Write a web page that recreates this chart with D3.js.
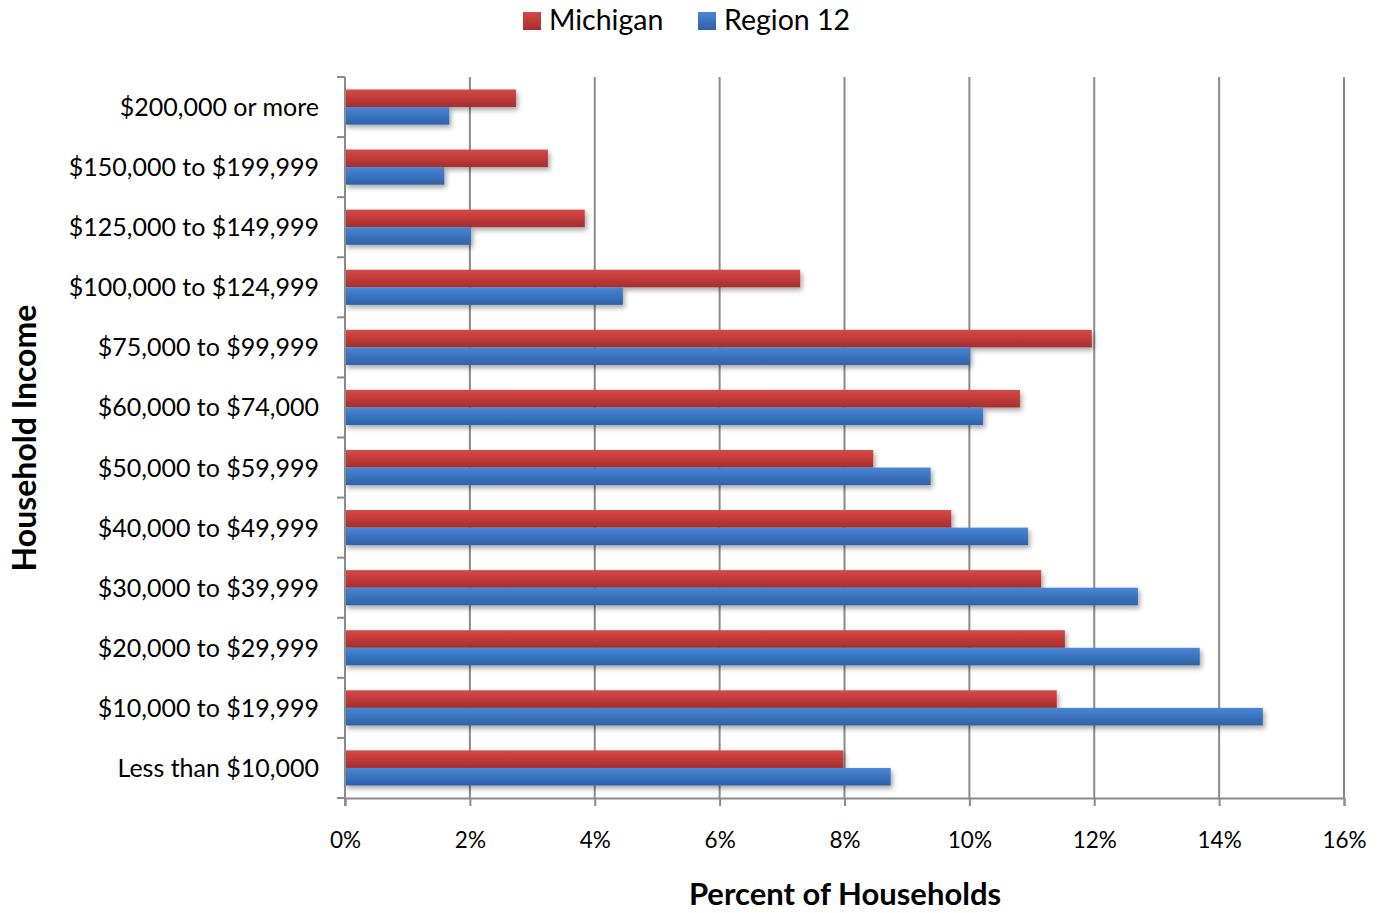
<!DOCTYPE html>
<html>
<head>
<meta charset="utf-8">
<script src="https://cdn.jsdelivr.net/npm/d3@7"></script>
<style>
  html, body { margin: 0; padding: 0; background: #fff; }
  svg { display: block; font-family: Lato, "Open Sans", sans-serif; }
</style>
</head>
<body>
<svg id="chart" width="1383" height="913"></svg>
<script>
const categories = [
  "$200,000 or more",
  "$150,000 to $199,999",
  "$125,000 to $149,999",
  "$100,000 to $124,999",
  "$75,000 to $99,999",
  "$60,000 to $74,000",
  "$50,000 to $59,999",
  "$40,000 to $49,999",
  "$30,000 to $39,999",
  "$20,000 to $29,999",
  "$10,000 to $19,999",
  "Less than $10,000"
];
const michigan = [2.74, 3.25, 3.84, 7.29, 11.96, 10.81, 8.46, 9.71, 11.15, 11.53, 11.40, 7.98];
const region12 = [1.67, 1.59, 2.02, 4.45, 10.01, 10.22, 9.38, 10.94, 12.70, 13.69, 14.70, 8.74];
const seriesNames = ["Michigan", "Region 12"];
const xTicks = [0, 2, 4, 6, 8, 10, 12, 14, 16];

(function () {
const svg = d3.select("#chart");
const pL = 345, pR = 1344, pT = 77, pB = 798;

const defs = svg.append("defs");
function grad(id, c1, c2, c3) {
  const g = defs.append("linearGradient").attr("id", id).attr("x1", 0).attr("y1", 0).attr("x2", 0).attr("y2", 1);
  g.append("stop").attr("offset", "0%").attr("stop-color", c1);
  g.append("stop").attr("offset", "45%").attr("stop-color", c2);
  g.append("stop").attr("offset", "100%").attr("stop-color", c3);
}
grad("gRed", "#d24a47", "#c43c3a", "#a32f2e");
grad("gBlue", "#4a86d2", "#3c75c2", "#2e62a6");
const f = defs.append("filter").attr("id", "shadow").attr("x", "-5%").attr("y", "-30%").attr("width", "115%").attr("height", "200%");
f.append("feDropShadow").attr("dx", 2).attr("dy", 3).attr("stdDeviation", 2.5).attr("flood-color", "#000").attr("flood-opacity", 0.35);

const x = d3.scaleLinear().domain([0, 16]).range([pL, pR]);
const y = d3.scaleBand().domain(categories).range([pT, pB]);
const groupW = y.bandwidth() * 0.585;
const inner = d3.scaleBand().domain(seriesNames).range([0, groupW]);
const groupOffset = (y.bandwidth() - groupW) / 2;

// gridlines
svg.append("g").selectAll("line").data(xTicks.slice(1)).join("line")
  .attr("x1", d => x(d)).attr("x2", d => x(d))
  .attr("y1", pT).attr("y2", pB)
  .attr("stroke", "#8a8a8a").attr("stroke-width", 2);

// bars
const data = [];
categories.forEach((c, i) => {
  data.push({ c, s: "Michigan", v: michigan[i] });
  data.push({ c, s: "Region 12", v: region12[i] });
});
svg.append("g").selectAll("rect").data(data).join("rect")
  .attr("x", x(0))
  .attr("y", d => y(d.c) + groupOffset + inner(d.s))
  .attr("width", d => x(d.v) - x(0))
  .attr("height", inner.bandwidth())
  .attr("fill", d => d.s === "Michigan" ? "url(#gRed)" : "url(#gBlue)")
  .attr("filter", "url(#shadow)");

// x axis
const xAxis = d3.axisBottom(x).tickValues(xTicks).tickFormat(d => d + "%").tickSize(8).tickPadding(26);
const gx = svg.append("g").attr("transform", `translate(0,${pB})`).call(xAxis);
gx.select(".domain").attr("stroke", "#8a8a8a").attr("stroke-width", 2);
gx.selectAll(".tick line").attr("stroke", "#8a8a8a").attr("stroke-width", 2);
gx.selectAll("text").attr("font-size", 22.5).attr("fill", "#000").attr("font-family", "Lato, sans-serif");

// y axis line & ticks at category boundaries
const boundaries = categories.map(c => y(c)).concat([pB]);
svg.append("line").attr("x1", pL).attr("x2", pL).attr("y1", pT).attr("y2", pB + 8)
  .attr("stroke", "#8a8a8a").attr("stroke-width", 2);
svg.append("g").selectAll("line").data(boundaries).join("line")
  .attr("x1", pL - 8).attr("x2", pL).attr("y1", d => d).attr("y2", d => d)
  .attr("stroke", "#8a8a8a").attr("stroke-width", 2);
svg.append("g").selectAll("text").data(categories).join("text")
  .attr("x", 319).attr("y", d => y(d) + y.bandwidth() / 2 + 9)
  .attr("text-anchor", "end").attr("font-size", 25).attr("fill", "#000")
  .text(d => d);

// axis titles
svg.append("text").attr("x", 845).attr("y", 905).attr("text-anchor", "middle")
  .attr("font-size", 31).attr("font-weight", "bold").text("Percent of Households");
svg.append("text").attr("transform", "translate(36,438) rotate(-90)").attr("text-anchor", "middle")
  .attr("font-size", 32).attr("font-weight", "bold").text("Household Income");

// legend
const legendItems = [{ n: "Michigan", fill: "url(#gRed)", x: 523 }, { n: "Region 12", fill: "url(#gBlue)", x: 698 }];
const lg = svg.append("g");
lg.selectAll("rect").data(legendItems).join("rect")
  .attr("x", d => d.x).attr("y", 12).attr("width", 18).attr("height", 18).attr("fill", d => d.fill);
lg.selectAll("text").data(legendItems).join("text")
  .attr("x", d => d.x + 26).attr("y", 30).attr("font-size", 28.5).attr("fill", "#000").text(d => d.n);
})();
</script>
</body>
</html>
